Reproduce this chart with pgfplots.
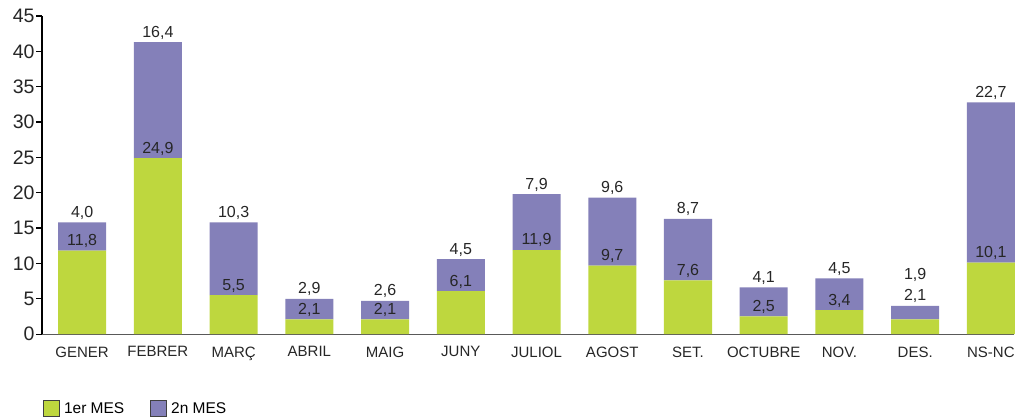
\documentclass[border=0pt]{standalone}
\usepackage{pgfplots}
\pgfplotsset{compat=1.18}
\usepackage{pgfplotstable}
\usepackage{fontspec}
\setmainfont{Liberation Sans}

\definecolor{mesA}{RGB}{190,215,62}
\definecolor{mesB}{RGB}{132,128,185}

% x, 1er MES, 2n MES, labels, extra label offsets (pt)
\pgfplotstableread{
x  a    b    la     lb     oa    ob
0  11.8 4.0  {11,8} {4,0}  0     0
1  24.9 16.4 {24,9} {16,4} 0     0
2  5.5  10.3 {5,5}  {10,3} 0     0
3  2.1  2.9  {2,1}  {2,9}  0     0
4  2.1  2.6  {2,1}  {2,6}  0     0
5  6.1  4.5  {6,1}  {4,5}  0     0
6  11.9 7.9  {11,9} {7,9}  0     0
7  9.7  9.6  {9,7}  {9,6}  0     0
8  7.6  8.7  {7,6}  {8,7}  0     0
9  2.5  4.1  {2,5}  {4,1}  0     0
10 3.4  4.5  {3,4}  {4,5}  0     0
11 2.1  1.9  {2,1}  {1,9}  13.4  21
12 10.1 22.7 {10,1} {22,7} 0     0
}\dades

% 318pt / 45 units = 7.0667pt per unit; labels sit at mid-segment, so lift by half a segment
\begin{document}
\begin{tikzpicture}
\begin{axis}[
  scale only axis,
  width=972pt, height=318pt,
  ybar stacked,
  bar width=48pt,
  xmin=-0.53, xmax=12.31,
  ymin=0, ymax=45,
  ytick={0,5,...,45},
  xtick=data,
  xticklabels={GENER,FEBRER,MARÇ,ABRIL,MAIG,JUNY,JULIOL,AGOST,SET.,OCTUBRE,NOV.,DES.,NS-NC},
  axis x line*=bottom,
  axis y line*=left,
  x axis line style={line width=1.2pt, black!65},
  y axis line style={line width=2.4pt, black},
  xtick style={draw=none},
  ytick style={line width=1.2pt, black},
  tick align=outside,
  major tick length=6pt,
  clip=false,
  /pgf/number format/assume math mode=true,
  yticklabel style={font=\fontsize{19.5}{19.5}\selectfont, text=black!85, xshift=2pt},
  xticklabel style={font=\fontsize{15}{15}\selectfont, text=black!85, yshift=-3pt},
  nodes near coords,
  point meta=explicit symbolic,
  nodes near coords style={font=\fontsize{16}{16}\selectfont, text=black!85, anchor=base, inner sep=0pt, yshift={(5+\off)*1pt}},
  legend columns=2,
  legend style={draw=none, fill=none, at={(rel axis cs:0,0)}, anchor=north west,
    xshift=1pt, yshift=-64pt, inner sep=0pt,
    nodes={inner sep=4pt},
    font=\fontsize{15.5}{15.5}\selectfont,
    /tikz/every even column/.append style={column sep=22pt}},
  legend image code/.code={\draw[#1, draw=black!75, line width=0.8pt] (0pt,-8pt) rectangle (16pt,8pt);},
]
\addplot+[fill=mesA, draw=none, visualization depends on={\thisrow{a}*3.5333+\thisrow{oa} \as \off}]
  table[x=x, y=a, meta=la] {\dades};
\addlegendentry{1er MES}
\addplot+[fill=mesB, draw=none, visualization depends on={\thisrow{b}*3.5333+\thisrow{ob} \as \off}]
  table[x=x, y=b, meta=lb] {\dades};
\addlegendentry{2n MES}
% margins as in the reference
\path (rel axis cs:0,1) ++(-42pt,16pt);
\end{axis}
\end{tikzpicture}
\end{document}
